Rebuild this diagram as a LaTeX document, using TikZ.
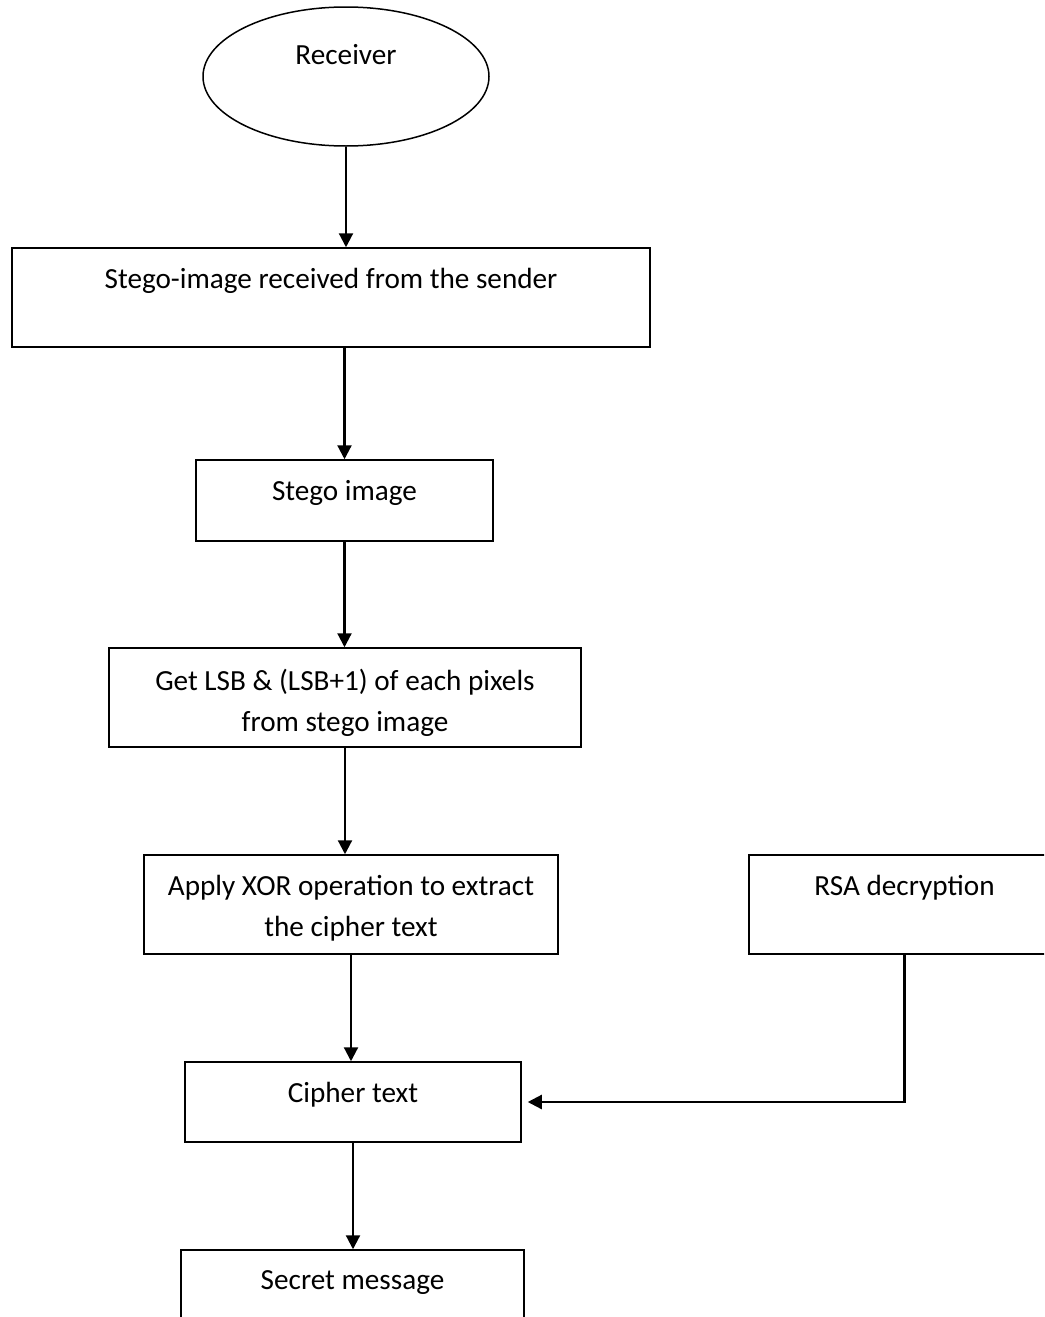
\documentclass[tikz,border=0pt]{standalone}
\usepackage{fontspec}
\setmainfont{Carlito}
\usetikzlibrary{arrows.meta,shapes.geometric}

\begin{document}
\begin{tikzpicture}[x=0.5pt,y=-0.5pt]
	\tikzstyle{block}
	  =[draw, line width=0.75pt, rectangle, inner sep=0pt]
	\tikzstyle{caption}
	  =[anchor=north, inner sep=0pt, align=center, yshift=-10.5pt,
	  font=\fontsize{14.6}{20.5}\selectfont]
	\tikzstyle{flow}
	  =[line width=1.1pt, -{Triangle[length=7pt,width=7pt]}]

	\useasboundingbox (0,0) rectangle (1044,1317);
	\clip (0,0) rectangle (1044,1317);

	\node[draw, line width=0.75pt, ellipse, minimum width=143pt,
	  minimum height=69.5pt,
	  label={[caption, yshift=-8.5pt]north:Receiver}] (recv)
	  at (346,76.5) {};
	\node[block, minimum width=319pt, minimum height=49.5pt,
	  label={[caption]north:Stego-image received from the sender}] (stegorx)
	  at (331,297.5) {};
	\node[block, minimum width=148.5pt, minimum height=40.5pt,
	  label={[caption]north:Stego image}] (stego)
	  at (344.5,500.5) {};
	\node[block, minimum width=236pt, minimum height=49.5pt,
	  label={[caption]north:Get LSB \& (LSB+1) of each pixels\\from stego image}] (lsb)
	  at (345,697.5) {};
	\node[block, minimum width=207pt, minimum height=49.5pt,
	  label={[caption]north:Apply XOR operation to extract\\the cipher text}] (xor)
	  at (351,904.5) {};
	\node[block, minimum width=155.5pt, minimum height=49.5pt,
	  label={[caption]north:RSA decryption}] (rsa)
	  at (904.5,904.5) {};
	\node[block, minimum width=168pt, minimum height=40pt,
	  label={[caption]north:Cipher text}] (cipher)
	  at (353,1102) {};
	\node[block, minimum width=171.5pt, minimum height=50pt,
	  label={[caption]north:Secret message}] (secret)
	  at (352.5,1300) {};

	\draw[flow] (recv.south) -- (recv.south |- stegorx.north);
	\draw[flow] (stego.north |- stegorx.south) -- (stego.north);
	\draw[flow] (stego.south) -- (stego.south |- lsb.north);
	\draw[flow] (lsb.south) -- (lsb.south |- xor.north);
	\draw[flow] (xor.south) -- (xor.south |- cipher.north);
	\draw[flow] (cipher.south) -- (cipher.south |- secret.north);
	\draw[flow, shorten >=3pt] (rsa.south) |- (cipher.east);
\end{tikzpicture}
\end{document}
